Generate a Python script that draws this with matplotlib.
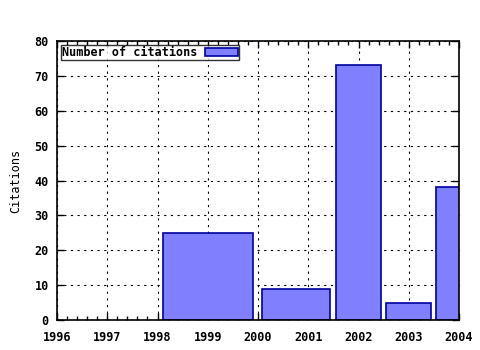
import matplotlib
matplotlib.use('Agg')
import matplotlib.pyplot as plt
from matplotlib.ticker import MultipleLocator
import numpy as np

years = [1999, 2001, 2002, 2003, 2004]
citations = [25, 9, 73, 5, 38]
series_label = 'Number of citations'
y_label = 'Citations'

# gnuplot-style boxes: each box spans the midpoints to its neighbours, scaled by 0.9
x = np.array(years, dtype=float)
mids = (x[1:] + x[:-1]) / 2
left = np.concatenate([[x[0] - (mids[0] - x[0])], mids])
right = np.concatenate([mids, [x[-1] + (x[-1] - mids[-1])]])
centers = (left + right) / 2
widths = (right - left) * 0.9

plt.rcParams['font.family'] = 'DejaVu Sans Mono'

fig = plt.figure(figsize=(4.8, 3.5), dpi=100)
ax = fig.add_axes([57 / 480, 30 / 350, 402 / 480, 279 / 350])

ax.bar(centers, citations, width=widths, color='#8080ff', edgecolor='#0000a0',
       linewidth=1.2, label=series_label, zorder=3)

ax.set_xlim(1996, 2004)
ax.set_ylim(0, 80)
ax.xaxis.set_major_locator(MultipleLocator(1))
ax.xaxis.set_minor_locator(MultipleLocator(0.2))
ax.yaxis.set_major_locator(MultipleLocator(10))
ax.tick_params(which='both', direction='in', top=True, right=True, width=1)
ax.tick_params(which='major', length=5, labelsize=8.5)
ax.tick_params(which='minor', length=3)
ax.tick_params(axis='x', which='major', pad=8)
ax.tick_params(axis='y', which='major', pad=6)
for lab in ax.get_xticklabels() + ax.get_yticklabels():
    lab.set_fontweight('bold')

ax.grid(True, which='major', color='black', linestyle=(0, (2, 4)), linewidth=0.8, zorder=1)
for s in ax.spines.values():
    s.set_linewidth(1.2)
    s.set_zorder(4)

ax.set_ylabel(y_label, fontsize=8.5, labelpad=9)

leg = ax.legend(loc='upper left', fontsize=8.5, frameon=True, fancybox=False,
                borderpad=0.1, handlelength=2.8, handleheight=0.6, handletextpad=0.6,
                borderaxespad=0.35, markerfirst=False, prop={'weight': 'bold', 'size': 8.5})
leg.get_frame().set_edgecolor('black')
leg.get_frame().set_linewidth(1.0)

plt.savefig('out.png', dpi=100)
